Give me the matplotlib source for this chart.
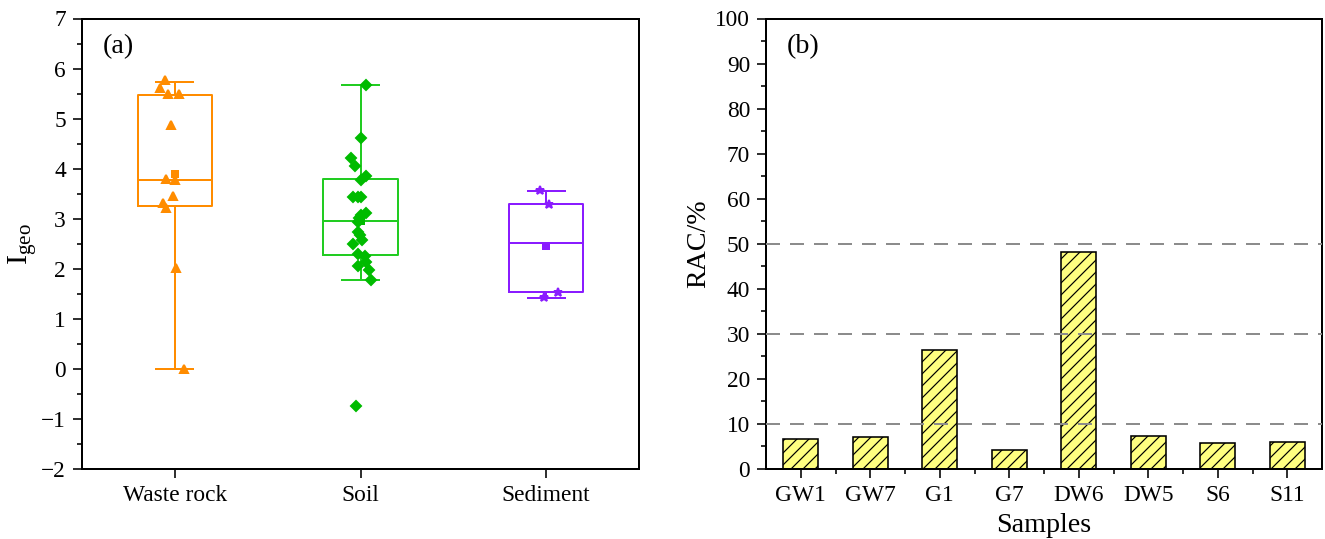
import matplotlib
matplotlib.use('Agg')
import matplotlib.pyplot as plt
from matplotlib.ticker import MultipleLocator, FixedLocator
import numpy as np

plt.rcParams['font.family'] = ['Liberation Serif', 'DejaVu Serif']
plt.rcParams['mathtext.fontset'] = 'custom'
plt.rcParams['mathtext.rm'] = 'Liberation Serif'
plt.rcParams['mathtext.it'] = 'Liberation Serif:italic'
plt.rcParams['hatch.linewidth'] = 0.6
plt.rcParams['axes.unicode_minus'] = True

# ---------------- data: panel (a) ----------------
categories = ['Waste rock', 'Soil', 'Sediment']
waste_vals = [5.77, 5.62, 5.50, 5.50, 4.87, 3.79, 3.77, 3.45, 3.31, 3.21, 2.01, 0.00]
waste_jit = [-0.054, -0.081, -0.035, 0.023, -0.022, -0.049, 0.0, -0.012, -0.066, -0.049, 0.005, 0.047]
soil_vals = [5.67, 4.62, 4.21, 4.05, 3.86, 3.78, 3.43, 3.43, 3.43, 3.11, 3.08, 3.01,
             2.94, 2.73, 2.67, 2.57, 2.50, 2.30, 2.26, 2.14, 2.05, 1.97, 1.77, -0.74]
soil_jit = [0.029, 0.005, -0.049, -0.027, 0.031, 0.0, -0.043, -0.012, 0.005, 0.032, 0.0, -0.007,
            -0.016, -0.011, -0.004, 0.007, -0.043, -0.012, 0.022, 0.027, -0.012, 0.045, 0.054, -0.023]
sed_vals = [3.57, 3.29, 1.54, 1.43]
sed_jit = [-0.034, 0.016, 0.063, -0.009]

box_q1 = [3.25, 2.28, 1.53]
box_med = [3.77, 2.95, 2.51]
box_q3 = [5.48, 3.79, 3.29]
box_lo = [0.00, 1.77, 1.42]
box_hi = [5.74, 5.67, 3.56]

colors_line = ['#FF8C00', '#22CC22', '#8A1CFF']
colors_pt = ['#FF8C00', '#00BB00', '#8A1CFF']
markers = ['^', 'D', '*']
msizes = [4.2, 3.4, 4.5]

# ---------------- data: panel (b) ----------------
samples = ['GW1', 'GW7', 'G1', 'G7', 'DW6', 'DW5', 'S6', 'S11']
rac = [6.6, 7.2, 26.5, 4.3, 48.1, 7.3, 5.7, 5.9]
thresholds = [10, 30, 50]

DPI = 144
fig = plt.figure(figsize=(1325 / DPI, 539 / DPI), dpi=DPI)
axa = fig.add_axes([82 / 1325, 70 / 539, 557 / 1325, 450.5 / 539])
axb = fig.add_axes([766 / 1325, 70 / 539, 556 / 1325, 450.5 / 539])

TICK_FS = 11.7
LAB_FS = 14

# ---- panel (a)
vals_all = [waste_vals, soil_vals, sed_vals]
jit_all = [waste_jit, soil_jit, sed_jit]
positions = np.arange(1, len(categories) + 1)
for i in range(len(categories)):
    st = [dict(med=box_med[i], q1=box_q1[i], q3=box_q3[i], whislo=box_lo[i],
               whishi=box_hi[i], fliers=[], label=categories[i])]
    c = colors_line[i]
    axa.bxp(st, positions=[positions[i]], widths=0.4, capwidths=0.2, showfliers=False,
            boxprops=dict(color=c, lw=1.0), whiskerprops=dict(color=c, lw=1.0),
            capprops=dict(color=c, lw=1.0), medianprops=dict(color=c, lw=1.0),
            manage_ticks=False)
    xs = positions[i] + np.array(jit_all[i])
    axa.plot(xs, vals_all[i], linestyle='none', marker=markers[i], ms=msizes[i],
             color=colors_pt[i], mec=colors_pt[i], zorder=4)
    axa.plot([positions[i]], [np.mean(vals_all[i])], linestyle='none', marker='s', ms=3.2,
             color=colors_pt[i], zorder=5)

axa.set_xlim(0.5, 3.5)
axa.set_ylim(-2, 7)
axa.set_xticks(positions)
axa.set_xticklabels(categories)
axa.yaxis.set_major_locator(MultipleLocator(1))
axa.yaxis.set_minor_locator(MultipleLocator(0.5))
axa.set_ylabel(r'$\mathrm{I}_{\mathrm{geo}}$', fontsize=LAB_FS + 1, labelpad=1)
axa.text(0.038, 0.937, '(a)', transform=axa.transAxes, fontsize=LAB_FS, va='center', ha='left')

# ---- panel (b)
xb = np.arange(len(samples))
axb.bar(xb, rac, width=0.5, color='#FFFF80', edgecolor='black', linewidth=0.8, hatch='////', zorder=2)
for t in thresholds:
    axb.axhline(t, color='#8C8C8C', lw=1.0, linestyle=(0, (7, 5)), zorder=3)
axb.set_xlim(-0.5, len(samples) - 0.5)
axb.set_ylim(0, 100)
axb.set_xticks(xb)
axb.set_xticklabels(samples)
axb.xaxis.set_minor_locator(FixedLocator(np.arange(0.5, len(samples) - 1, 1)))
axb.yaxis.set_major_locator(MultipleLocator(10))
axb.yaxis.set_minor_locator(MultipleLocator(5))
axb.set_ylabel('RAC/%', fontsize=LAB_FS, labelpad=2)
axb.set_xlabel('Samples', fontsize=LAB_FS, labelpad=3.5)
axb.text(0.038, 0.937, '(b)', transform=axb.transAxes, fontsize=LAB_FS, va='center', ha='left')

for ax in (axa, axb):
    for s in ax.spines.values():
        s.set_linewidth(1.0)
    ax.tick_params(axis='both', which='major', direction='out', length=4.5, width=0.8,
                   labelsize=TICK_FS, top=False, right=False)
    ax.tick_params(axis='both', which='minor', direction='out', length=2.5, width=0.8,
                   top=False, right=False)
axa.tick_params(axis='x', which='minor', bottom=False)

fig.savefig('out.png', dpi=DPI)
